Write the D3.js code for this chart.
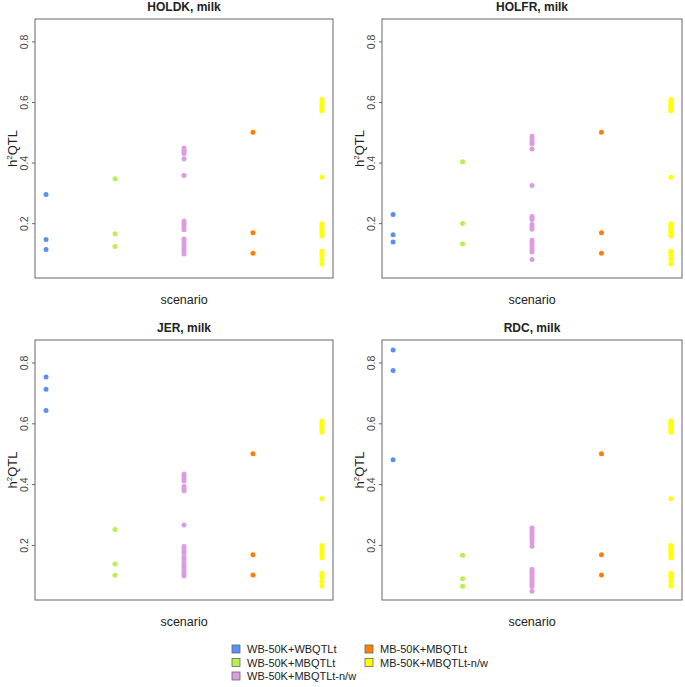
<!DOCTYPE html>
<html><head><meta charset="utf-8">
<script src="https://cdn.jsdelivr.net/npm/d3@7"></script>
<style>
body{margin:0;background:#fff;}
svg{display:block;font-family:"Liberation Sans",Arial,Helvetica,sans-serif;}
</style></head>
<body><svg id="chart" width="685" height="687"></svg>
<script>
const categories = ["WB-50K+WBQTLt","WB-50K+MBQTLt","WB-50K+MBQTLt-n/w","MB-50K+MBQTLt","MB-50K+MBQTLt-n/w"];
const colors = ["#5b8ff0","#b8f04e","#dd9ce0","#ff8000","#ffff00"];
const panelTitles = ["HOLDK, milk","HOLFR, milk","JER, milk","RDC, milk"];
const yTicks = [0.2,0.4,0.6,0.8];

// shared MB scenarios
const mbOrange = [0.500,0.168,0.101];
const mbYellow = [0.608,0.600,0.592,0.585,0.578,0.571,0.352,0.198,0.190,0.182,0.174,0.166,0.158,0.107,0.100,0.093,0.080,0.065];

const holdkBlue = [0.295,0.146,0.113];
const holdkGreen = [0.347,0.165,0.123];
const holdkPurple = [0.448,0.441,0.435,0.430,0.413,0.357,0.207,0.200,0.192,0.185,0.178,0.148,0.140,0.132,0.122,0.115,0.107,0.098];

const holfrBlue = [0.229,0.162,0.138];
const holfrGreen = [0.403,0.199,0.132];
const holfrPurple = [0.487,0.478,0.470,0.462,0.445,0.324,0.222,0.217,0.212,0.196,0.188,0.180,0.144,0.136,0.128,0.120,0.112,0.105,0.080];

const jerBlue = [0.752,0.712,0.642];
const jerGreen = [0.251,0.137,0.100];
const jerPurple = [0.433,0.425,0.417,0.410,0.392,0.385,0.378,0.266,0.195,0.188,0.181,0.174,0.162,0.155,0.145,0.135,0.127,0.119,0.111,0.104,0.098];

const rdcBlue = [0.841,0.774,0.480];
const rdcGreen = [0.166,0.089,0.064];
const rdcPurple = [0.256,0.248,0.240,0.232,0.225,0.218,0.207,0.196,0.120,0.113,0.106,0.099,0.092,0.085,0.077,0.070,0.063,0.048];

const panelData = [
  [holdkBlue, holdkGreen, holdkPurple, mbOrange, mbYellow],
  [holfrBlue, holfrGreen, holfrPurple, mbOrange, mbYellow],
  [jerBlue, jerGreen, jerPurple, mbOrange, mbYellow],
  [rdcBlue, rdcGreen, rdcPurple, mbOrange, mbYellow]
];

const svg = d3.select("#chart");
const boxes = [
  {x0:35, x1:333, y0:19, y1:278},
  {x0:382, x1:682, y0:19, y1:278},
  {x0:35, x1:333, y0:340, y1:600},
  {x0:382, x1:682, y0:340, y1:600}
];

panelData.forEach((series, p) => {
  const b = boxes[p];
  const x = d3.scaleLinear().domain([0.84, 5.16]).range([b.x0, b.x1]);
  const y = d3.scaleLinear().domain([0.019, 0.874]).range([b.y1, b.y0]);
  const g = svg.append("g");

  series.forEach((vals, i) => {
    g.selectAll(null).data(vals).enter().append("circle")
      .attr("cx", x(i + 1)).attr("cy", d => y(d)).attr("r", 2.5)
      .attr("fill", colors[i]);
  });

  g.append("rect").attr("x", b.x0).attr("y", b.y0)
    .attr("width", b.x1 - b.x0).attr("height", b.y1 - b.y0)
    .attr("fill", "none").attr("stroke", "#666").attr("stroke-width", 1);

  const ax = g.append("g").attr("transform", `translate(${b.x0},0)`)
    .call(d3.axisLeft(y).tickValues(yTicks).tickSize(3).tickFormat(d3.format(".1f")));
  ax.select(".domain").remove();
  ax.selectAll("line").attr("stroke", "#666");
  ax.selectAll("text")
    .attr("fill", "#444").style("font-size", "10.5px")
    .attr("x", 0).attr("dy", 0)
    .attr("text-anchor", "middle")
    .attr("transform", "translate(-7.5,0) rotate(-90)");

  g.append("text").attr("x", (b.x0 + b.x1) / 2).attr("y", b.y0 - 8)
    .attr("text-anchor", "middle").attr("font-weight", "bold")
    .style("font-size", "12px").attr("fill", "#222").text(panelTitles[p]);

  g.append("text").attr("x", (b.x0 + b.x1) / 2).attr("y", b.y1 + 26)
    .attr("text-anchor", "middle").style("font-size", "12.5px")
    .attr("fill", "#222").text("scenario");

  const yl = g.append("text")
    .attr("transform", `translate(${b.x0 - 18},${(b.y0 + b.y1) / 2}) rotate(-90)`)
    .attr("text-anchor", "middle").style("font-size", "13px").attr("fill", "#222");
  yl.append("tspan").text("h");
  yl.append("tspan").attr("dy", -5).style("font-size", "8px").text("2");
  yl.append("tspan").attr("dy", 5).text("QTL");
});

const legendPos = [
  {x:232, y:649},{x:232, y:662.5},{x:232, y:676},
  {x:365, y:649},{x:365, y:662.5}
];
const lg = svg.append("g");
categories.forEach((c, i) => {
  const p = legendPos[i];
  lg.append("rect").attr("x", p.x).attr("y", p.y - 4).attr("width", 8).attr("height", 8)
    .attr("fill", colors[i]).attr("stroke", "#666").attr("stroke-width", 0.8);
  lg.append("text").attr("x", p.x + 15).attr("y", p.y + 4)
    .style("font-size", "11px").attr("fill", "#222").text(c);
});
</script>
</body></html>
